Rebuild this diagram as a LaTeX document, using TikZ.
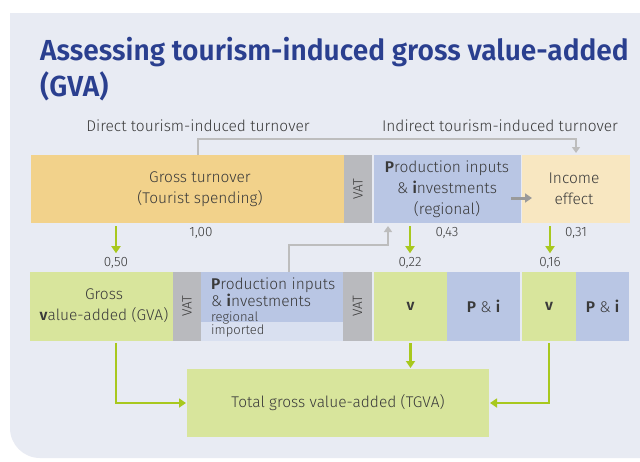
\documentclass[tikz,border=0pt]{standalone}
\usepackage{fontspec}
\setmainfont{Fira Sans}[UprightFont={* Light}, BoldFont={* SemiBold}]
\newfontfamily\titlefont{Fira Sans}[UprightFont={* SemiBold}, FakeStretch=0.97]
\usetikzlibrary{arrows.meta}

\definecolor{panelbg}{HTML}{E8EBF3}
\definecolor{titleblue}{HTML}{2A3F8F}
\definecolor{turnover}{HTML}{F2D28B}
\definecolor{vatgrey}{HTML}{B9BABE}
\definecolor{inputblue}{HTML}{B9C6E4}
\definecolor{importblue}{HTML}{D9E0F0}
\definecolor{income}{HTML}{F8E7C1}
\definecolor{gvagreen}{HTML}{D8E59C}
\definecolor{arrowgreen}{HTML}{A8C81E}
\definecolor{linkgrey}{HTML}{BDBDBD}
\definecolor{darkgrey}{HTML}{9A9A9A}
\definecolor{textgrey}{HTML}{3A3A3A}

\begin{document}
\begin{tikzpicture}[x=1pt, y=-1pt,
  box/.style={draw=none, inner sep=0pt, outer sep=0pt, anchor=north west},
  txt/.style={text=textgrey, font=\fontsize{15.5}{21}\selectfont, align=center, inner sep=0pt},
  small/.style={text=textgrey, font=\fontsize{13.5}{14}\selectfont, inner sep=1pt},
  vat/.style={text=textgrey, font=\fontsize{13.5}{13.5}\selectfont, rotate=90, inner sep=0pt},
  garrow/.style={draw=arrowgreen, line width=2.6pt, -{Triangle[width=9pt,length=7pt]}},
  glink/.style={draw=linkgrey, line width=2pt},
  darrow/.style={draw=darkgrey, line width=3pt, -{Triangle[width=9pt,length=7pt]}}]

\useasboundingbox (0,0) rectangle (640,461);
\fill[white] (0,0) rectangle (640,461);

% background panel with a rounded lower-left corner
\fill[panelbg] (10,13) -- (640,13) -- (640,458) -- (40,458)
  arc[start angle=90, end angle=180, radius=30] -- cycle;

% title
\node[anchor=base west, inner sep=0pt, text=titleblue, font=\titlefont\fontsize{29}{36}\selectfont] (title1) at (40,60) {Assessing tourism-induced gross value-added};
\node[anchor=base west, inner sep=0pt, text=titleblue, font=\titlefont\fontsize{29}{36}\selectfont] (title2) at (40,96) {(GVA)};

% headings over the top row
\node[txt] (direct) at (198,126) {Direct tourism-induced turnover};
\node[txt] (indirect) at (500,126) {Indirect tourism-induced turnover};

% top row
\node[box, fill=turnover, minimum width=313pt, minimum height=68pt] (turn) at (31,155) {};
\node[box, fill=vatgrey, minimum width=28pt, minimum height=68pt] (vat1) at (344,155) {};
\node[box, fill=inputblue, minimum width=147pt, minimum height=68pt] (pinp) at (374,155) {};
\node[box, fill=income, minimum width=108pt, minimum height=68pt] (inc) at (522,155) {};

\node[txt] (turntxt) at (200,189) {Gross turnover\\(Tourist spending)};
\node[vat] (vat1txt) at (vat1) {VAT};
\node[txt] (pinptxt) at (447,189) {\textbf{P}roduction inputs\\\& \textbf{i}nvestments\\(regional)};
\node[txt] (inctxt) at (574,189) {Income\\effect};

% bottom row
\node[box, fill=gvagreen, minimum width=143pt, minimum height=69pt] (gva) at (30,272) {};
\node[box, fill=vatgrey, minimum width=28pt, minimum height=69pt] (vat2) at (173,272) {};
\node[box, fill=importblue, minimum width=142pt, minimum height=69pt] (pi2) at (201,272) {};
\node[box, fill=inputblue, minimum width=142pt, minimum height=50pt] (pi2up) at (201,272) {};
\node[box, fill=vatgrey, minimum width=29pt, minimum height=69pt] (vat3) at (343,272) {};
\node[box, fill=gvagreen, minimum width=73pt, minimum height=69pt] (vb1) at (374,272) {};
\node[box, fill=inputblue, minimum width=73pt, minimum height=69pt] (pb1) at (447,272) {};
\node[box, fill=gvagreen, minimum width=54pt, minimum height=69pt] (vb2) at (522,272) {};
\node[box, fill=inputblue, minimum width=53pt, minimum height=69pt] (pb2) at (576,272) {};

\node[txt] (gvatxt) at (104,306) {Gross\\\textbf{v}alue-added (GVA)};
\node[vat] (vat2txt) at (vat2) {VAT};
\node[vat] (vat3txt) at (vat3) {VAT};
\node[txt, anchor=west, align=left, font=\fontsize{15.5}{14}\selectfont] (pi2txt) at (211,292.5) {\textbf{P}roduction inputs\\\& \textbf{i}nvestments};
\node[small, anchor=west, inner sep=0pt, font=\fontsize{13}{13}\selectfont] (regtxt) at (211,317.5) {regional};
\node[small, anchor=west, inner sep=0pt, font=\fontsize{13}{13}\selectfont] (imptxt) at (211,331) {imported};
\node[txt] (vb1txt) at (vb1) {\textbf{v}};
\node[txt] (pb1txt) at (pb1) {\textbf{P} \& \textbf{i}};
\node[txt] (vb2txt) at (vb2) {\textbf{v}};
\node[txt] (pb2txt) at (pb2) {\textbf{P} \& \textbf{i}};

% total
\node[box, fill=gvagreen, minimum width=302pt, minimum height=68pt] (tgva) at (187,369) {};
\node[txt] (tgvatxt) at (tgva) {Total gross value-added (TGVA)};

% shares
\node[small] (s100) at (201,233) {1,00};
\node[small] (s043) at (447,233) {0,43};
\node[small] (s031) at (576,233) {0,31};
\node[small] (s050) at (116,263) {0,50};
\node[small] (s022) at (410,263) {0,22};
\node[small] (s016) at (550,263) {0,16};

% green flows
\draw[garrow, shorten <=3pt, shorten >=3pt] (turn.south -| s050) -- (s050.north);
\draw[garrow, shorten <=3pt, shorten >=3pt] (pinp.south -| s022) -- (s022.north);
\draw[garrow, shorten <=3pt, shorten >=3pt] (inc.south -| s016) -- (s016.north);
\draw[garrow, shorten <=2pt, shorten >=1pt] (gva.south -| s050) |- (tgva.west);
\draw[garrow, shorten <=2pt, shorten >=1pt] (vb1.south) -- (tgva.north -| vb1.south);
\draw[garrow, shorten <=2pt, shorten >=1pt] (vb2.south) |- (tgva.east);

% grey links
\draw[glink, -{Triangle[width=8pt,length=6pt]}] (turn.north -| direct) -- ++(0,-16) -| ([yshift=2pt]inc.north);
\coordinate (bend) at (388,245);
\draw[glink, -{Triangle[width=8pt,length=6pt]}] (pi2.north -| 289,0) |- (bend) -- ([yshift=-3pt]pinp.south -| bend);
\coordinate (effstart) at (511,198);
\draw[darrow] (effstart) -- ++(21,0);
\end{tikzpicture}
\end{document}
